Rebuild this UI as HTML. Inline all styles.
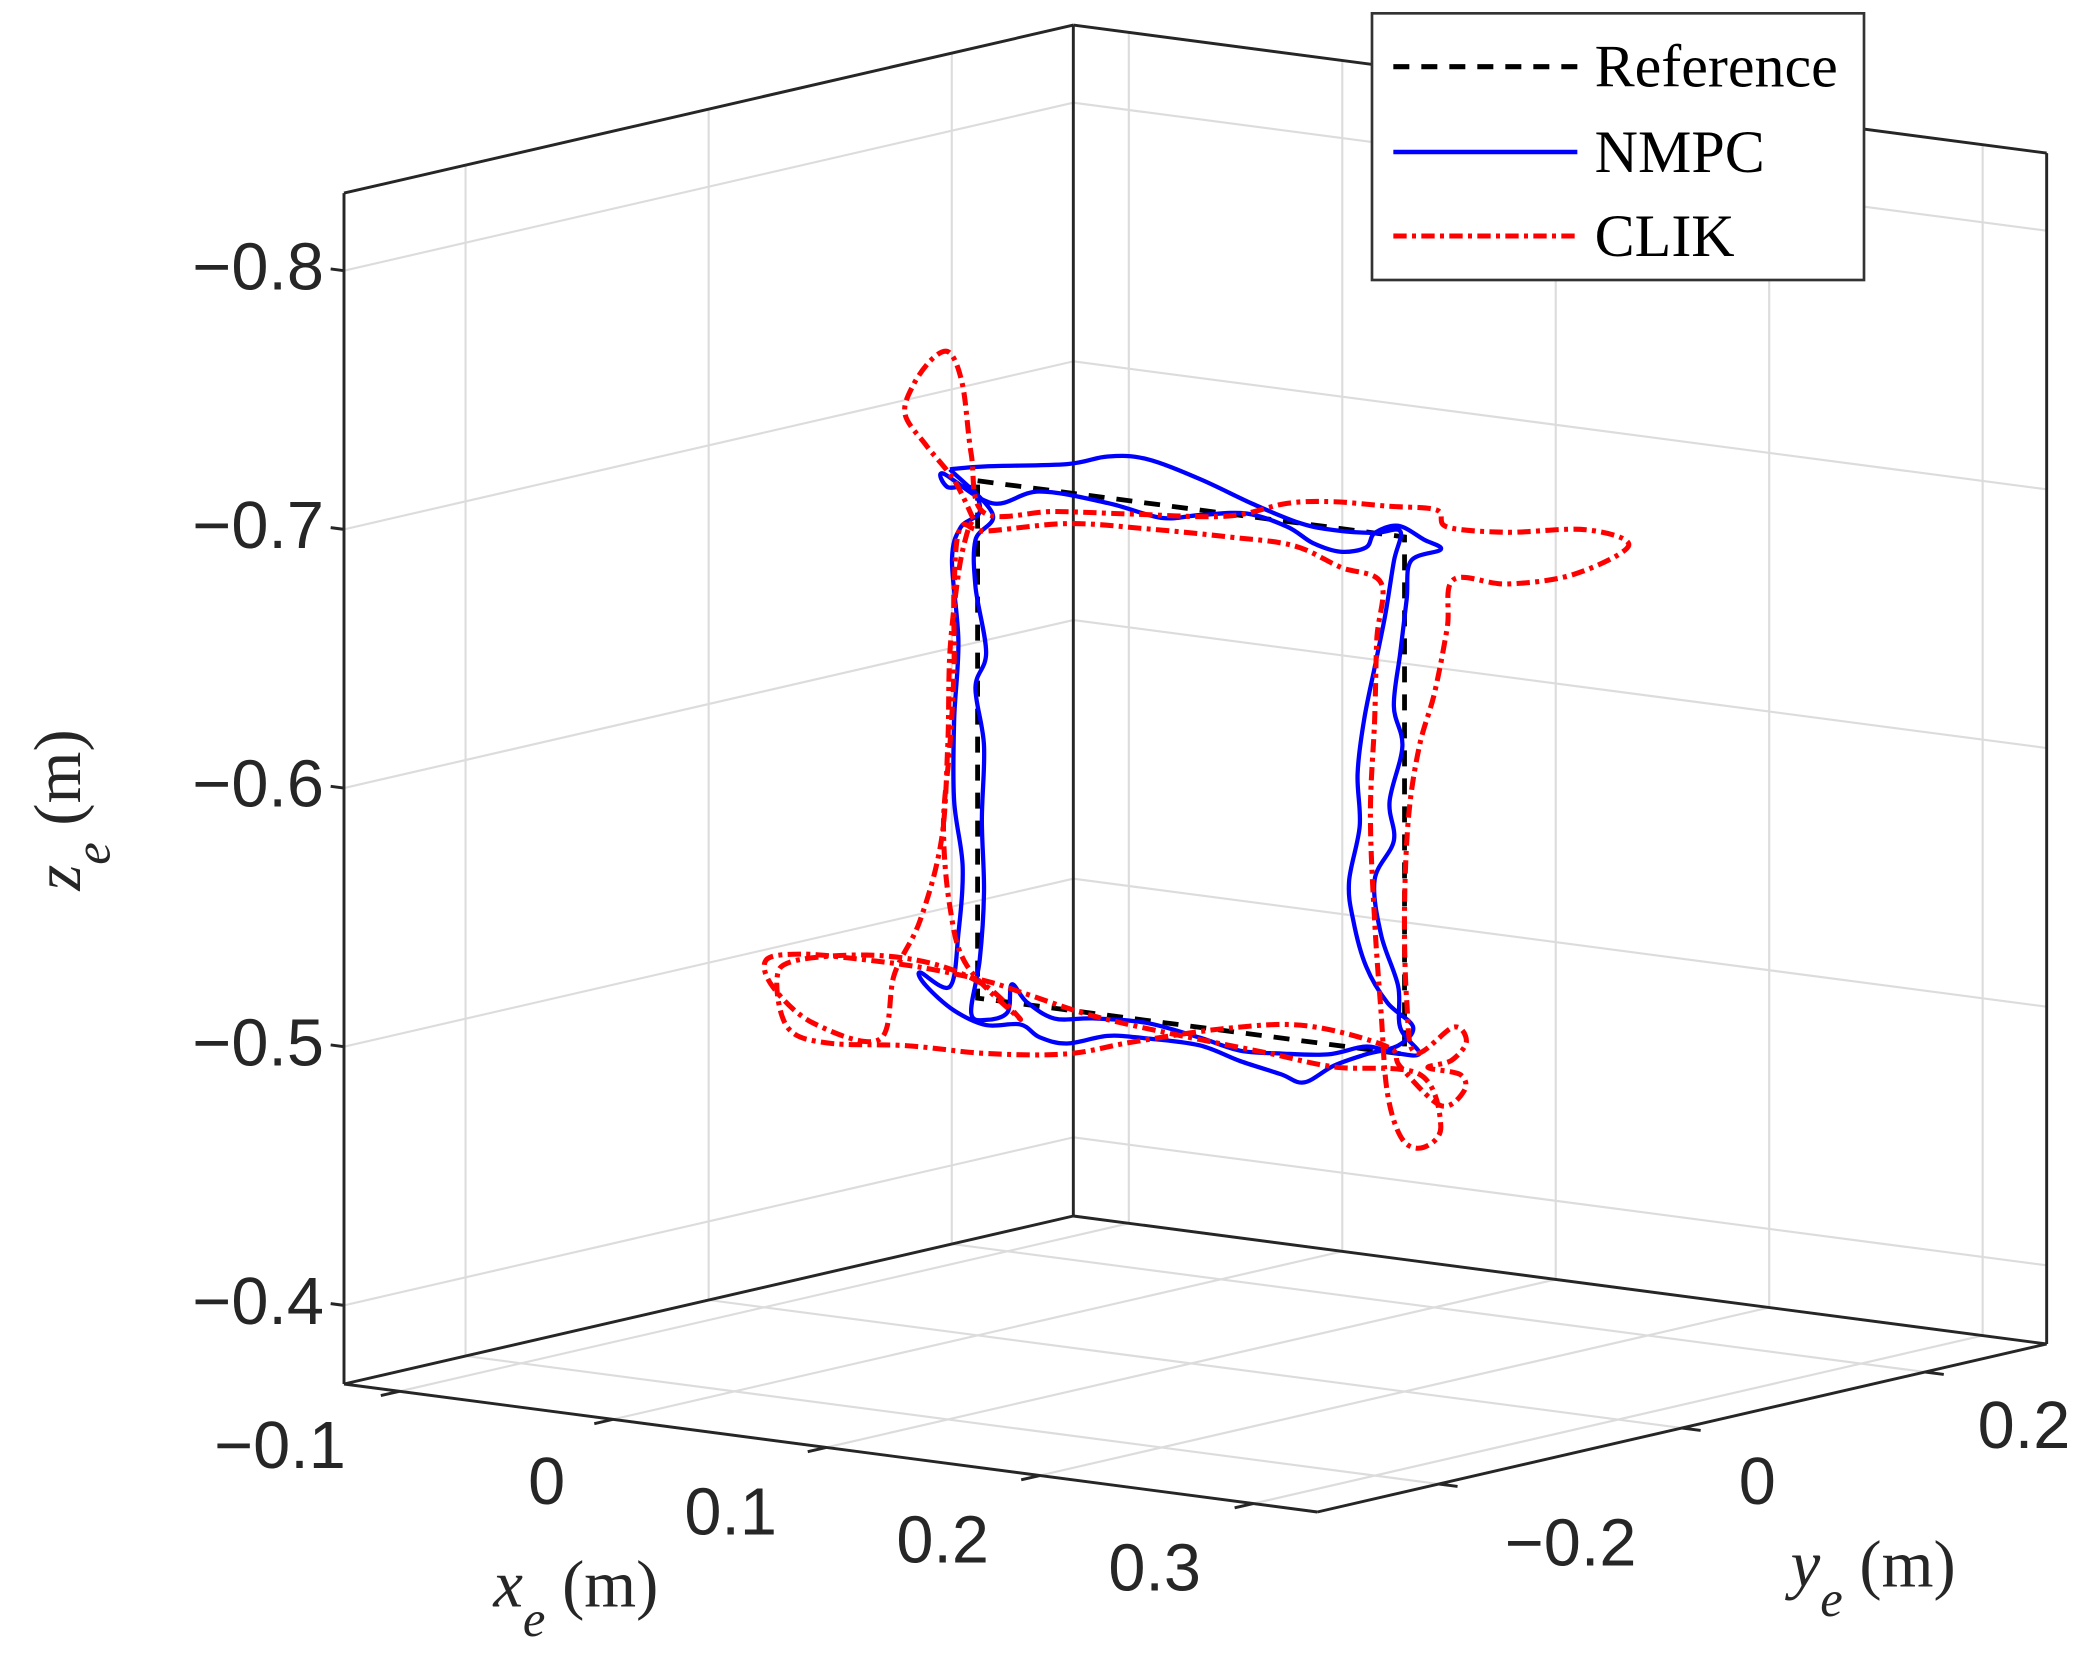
<!DOCTYPE html>
<html><head><meta charset="utf-8"><style>
html,body{margin:0;padding:0;background:#fff;}
svg{display:block;}
.tick{font-family:"Liberation Sans",Arial,sans-serif;font-size:50px;fill:#262626;}
.lab{font-family:"Liberation Serif","Times New Roman",serif;font-size:50px;fill:#262626;}
.leg{font-family:"Liberation Serif","Times New Roman",serif;font-size:45px;fill:#000;}
</style></head><body>
<svg id="chart" width="2080" height="1654" viewBox="0 0 1560 1240.5" preserveAspectRatio="none" xmlns="http://www.w3.org/2000/svg">
<rect x="0" y="0" width="1560" height="1240.5" fill="#fff"/>
<g id="grid"></g>
<g id="box"></g>
<g id="ticks"></g>
<g id="series"></g>
<g id="labels">
  <text class="lab" x="370" y="1205"><tspan font-style="italic">x</tspan><tspan font-style="italic" font-size="38" dy="22">e</tspan><tspan dy="-22"> (m)</tspan></text>
  <text class="lab" x="1343" y="1190"><tspan font-style="italic">y</tspan><tspan font-style="italic" font-size="38" dy="22">e</tspan><tspan dy="-22"> (m)</tspan></text>
  <text class="lab" transform="translate(60,668) rotate(-90)"><tspan font-style="italic">z</tspan><tspan font-style="italic" font-size="38" dy="22">e</tspan><tspan dy="-22"> (m)</tspan></text>
</g>
<g id="legend">
  <rect x="1029" y="10" width="369" height="200" fill="#fff" stroke="#333" stroke-width="2"/>
  <line x1="1045" y1="50" x2="1183" y2="50" stroke="#000" stroke-width="3.8" stroke-dasharray="12 9"/>
  <text class="leg" x="1196" y="65">Reference</text>
  <line x1="1045" y1="114" x2="1183" y2="114" stroke="#0000ff" stroke-width="3.4"/>
  <text class="leg" x="1196" y="129">NMPC</text>
  <line x1="1045" y1="177" x2="1183" y2="177" stroke="#ff0000" stroke-width="3.8" stroke-dasharray="10 4 3 4"/>
  <text class="leg" x="1196" y="192">CLIK</text>
</g>
</svg>
<script>
const xTicks=[-0.1,0,0.1,0.2,0.3];
const xTickLabels=["\u22120.1","0","0.1","0.2","0.3"];
const yTicks=[-0.2,0,0.2];
const yTickLabels=["\u22120.2","0","0.2"];
const zTicks=[-0.8,-0.7,-0.6,-0.5,-0.4];
const zTickLabels=["\u22120.8","\u22120.7","\u22120.6","\u22120.5","\u22120.4"];
const traceY=0;
const refX=[0,0.2,0.2,0,0];
const refZ=[-0.7,-0.7,-0.5,-0.5,-0.7];
const nmpcX=[-0.013,0.004,0.042,0.061,0.079,0.104,0.129,0.151,0.167,0.186,0.198,0.195,0.191,0.186,0.181,0.178,0.179,0.174,0.176,0.182,0.192,0.204,0.197,0.182,0.167,0.153,0.142,0.123,0.104,0.079,0.061,0.042,0.029,0.020,0.004,-0.011,-0.024,-0.027,-0.013,-0.009,-0.007,-0.011,-0.011,-0.009,-0.012,-0.008,0.001,-0.003,-0.014,-0.016,0.007,0.029,0.061,0.086,0.104,0.126,0.145,0.157,0.170,0.182,0.186,0.197,0.209,0.217,0.203,0.201,0.198,0.195,0.199,0.193,0.195,0.186,0.189,0.197,0.198,0.207,0.195,0.182,0.164,0.142,0.123,0.104,0.079,0.054,0.036,0.023,0.016,0.014,0.004,-0.003,0.001,0.003,0.002,0.003,-0.001,0.004,-0.001,-0.001,0.007,-0.013];
const nmpcZ=[-0.703,-0.706,-0.711,-0.716,-0.717,-0.712,-0.705,-0.700,-0.699,-0.700,-0.702,-0.690,-0.669,-0.648,-0.627,-0.606,-0.586,-0.564,-0.549,-0.532,-0.519,-0.511,-0.503,-0.498,-0.492,-0.484,-0.486,-0.489,-0.493,-0.493,-0.492,-0.487,-0.488,-0.492,-0.490,-0.494,-0.502,-0.507,-0.503,-0.524,-0.550,-0.575,-0.606,-0.637,-0.668,-0.681,-0.688,-0.697,-0.696,-0.701,-0.692,-0.699,-0.698,-0.695,-0.698,-0.701,-0.698,-0.693,-0.691,-0.694,-0.700,-0.704,-0.700,-0.697,-0.691,-0.676,-0.655,-0.634,-0.619,-0.597,-0.582,-0.566,-0.545,-0.526,-0.510,-0.501,-0.500,-0.501,-0.496,-0.494,-0.493,-0.496,-0.499,-0.498,-0.496,-0.501,-0.507,-0.496,-0.492,-0.494,-0.515,-0.541,-0.569,-0.598,-0.620,-0.634,-0.659,-0.677,-0.688,-0.703];
const clikX=[-0.002,-0.011,-0.024,-0.034,-0.030,-0.021,-0.013,-0.007,-0.003,0.003,0.036,0.073,0.117,0.145,0.167,0.192,0.215,0.220,0.248,0.285,0.305,0.279,0.248,0.223,0.220,0.214,0.207,0.202,0.200,0.201,0.205,0.223,0.229,0.222,0.211,0.226,0.228,0.217,0.198,0.192,0.154,0.117,0.073,0.042,0.004,-0.033,-0.071,-0.089,-0.094,-0.086,-0.052,-0.021,0.004,0.020,-0.005,-0.013,-0.016,-0.013,-0.011,-0.011,-0.008,0.004,0.042,0.079,0.117,0.148,0.170,0.189,0.187,0.186,0.184,0.186,0.189,0.192,0.199,0.209,0.217,0.207,0.167,0.136,0.092,0.054,0.023,0.004,-0.027,-0.058,-0.083,-0.099,-0.096,-0.077,-0.046,-0.039,-0.027,-0.017,-0.014,-0.013,-0.009,-0.005,-0.002];
const clikZ=[-0.685,-0.699,-0.711,-0.722,-0.734,-0.745,-0.748,-0.736,-0.710,-0.688,-0.692,-0.695,-0.699,-0.707,-0.710,-0.711,-0.712,-0.706,-0.707,-0.712,-0.708,-0.694,-0.687,-0.686,-0.667,-0.641,-0.620,-0.593,-0.557,-0.521,-0.501,-0.513,-0.508,-0.500,-0.496,-0.495,-0.489,-0.482,-0.495,-0.502,-0.506,-0.501,-0.491,-0.483,-0.479,-0.478,-0.475,-0.479,-0.497,-0.505,-0.511,-0.511,-0.505,-0.494,-0.512,-0.534,-0.565,-0.596,-0.627,-0.658,-0.681,-0.681,-0.688,-0.690,-0.691,-0.691,-0.685,-0.681,-0.659,-0.628,-0.591,-0.550,-0.515,-0.484,-0.467,-0.465,-0.474,-0.493,-0.4915,-0.4935,-0.496,-0.499,-0.504,-0.507,-0.509,-0.509,-0.508,-0.504,-0.494,-0.482,-0.479,-0.505,-0.527,-0.559,-0.596,-0.632,-0.663,-0.679,-0.685];

const X0=-0.126,X1=0.33,Y0=-0.3,Y1=0.3,ZB=-0.3696,ZT=-0.83;
const NS="http://www.w3.org/2000/svg";
function P(x,y,z){
  const fx=(x-X0)/(X1-X0), fy=(y-Y0)/(Y1-Y0);
  return [258+fx*730+fy*547, 1038+fx*96-fy*126+(z-ZB)*1940];
}
function mk(tag,attrs,parent){
  const e=document.createElementNS(NS,tag);
  for(const k in attrs)e.setAttribute(k,attrs[k]);
  parent.appendChild(e);return e;
}
function seg(a,b,parent,stroke,w,name){
  const l=mk('line',{x1:a[0],y1:a[1],x2:b[0],y2:b[1],stroke:stroke,'stroke-width':w},parent);
  
  
  return l;
}
const grid=document.getElementById('grid'),box=document.getElementById('box'),ticks=document.getElementById('ticks'),series=document.getElementById('series');
const gc='#dcdcdc',gw=1.6;
xTicks.forEach(x=>{seg(P(x,Y0,ZB),P(x,Y1,ZB),grid,gc,gw,'floor-gridline-x');});
yTicks.forEach(y=>{seg(P(X0,y,ZB),P(X1,y,ZB),grid,gc,gw,'floor-gridline-y');});
yTicks.forEach(y=>{seg(P(X0,y,ZB),P(X0,y,ZT),grid,gc,gw,'left-wall-gridline-y');});
zTicks.forEach(z=>{seg(P(X0,Y0,z),P(X0,Y1,z),grid,gc,gw,'left-wall-gridline-z');});
xTicks.forEach(x=>{seg(P(x,Y1,ZB),P(x,Y1,ZT),grid,gc,gw,'right-wall-gridline-x');});
zTicks.forEach(z=>{seg(P(X0,Y1,z),P(X1,Y1,z),grid,gc,gw,'right-wall-gridline-z');});
const bc='#262626',bw=2.2;
[[P(X0,Y0,ZB),P(X1,Y0,ZB)],[P(X1,Y0,ZB),P(X1,Y1,ZB)],[P(X1,Y1,ZB),P(X0,Y1,ZB)],[P(X0,Y1,ZB),P(X0,Y0,ZB)],
 [P(X0,Y0,ZB),P(X0,Y0,ZT)],[P(X0,Y1,ZB),P(X0,Y1,ZT)],[P(X1,Y1,ZB),P(X1,Y1,ZT)],
 [P(X0,Y0,ZT),P(X0,Y1,ZT)],[P(X0,Y1,ZT),P(X1,Y1,ZT)]].forEach(s=>seg(s[0],s[1],box,bc,bw,'box-edge'));
const xLabPos=[[210,1085],[410,1112],[548,1135],[707,1156],[866,1177]];
xTicks.forEach((x,i)=>{
  const a=P(x,Y0,ZB);seg(a,[a[0]-14,a[1]+3.2],ticks,bc,bw,'x-tick');
  const t=mk('text',{x:xLabPos[i][0],y:xLabPos[i][1]+16,'text-anchor':'middle',class:'tick'},ticks);
  
  
  t.textContent=xTickLabels[i];
});
const yLabPos=[[1178,1158],[1318,1112],[1518,1070]];
yTicks.forEach((y,i)=>{
  const a=P(X1,y,ZB);seg(a,[a[0]+14,a[1]+1.8],ticks,bc,bw,'y-tick');
  const t=mk('text',{x:yLabPos[i][0],y:yLabPos[i][1]+16,'text-anchor':'middle',class:'tick'},ticks);
  
  
  t.textContent=yTickLabels[i];
});
zTicks.forEach((z,i)=>{
  const a=P(X0,Y0,z);seg(a,[a[0]-10,a[1]-1.3],ticks,bc,bw,'z-tick');
  const t=mk('text',{x:243,y:a[1]+14,'text-anchor':'end',class:'tick'},ticks);
  
  
  t.textContent=zTickLabels[i];
});
function smoothPath(xs,zs){
  const n=Math.min(xs.length,zs.length);const pts=[];
  for(let i=0;i<n;i++)pts.push(P(xs[i],traceY,zs[i]));
  let d='M'+pts[0][0].toFixed(1)+','+pts[0][1].toFixed(1);
  for(let i=0;i<n-1;i++){
    const p0=pts[Math.max(0,i-1)],p1=pts[i],p2=pts[i+1],p3=pts[Math.min(n-1,i+2)];
    const c1=[p1[0]+(p2[0]-p0[0])/6,p1[1]+(p2[1]-p0[1])/6];
    const c2=[p2[0]-(p3[0]-p1[0])/6,p2[1]-(p3[1]-p1[1])/6];
    d+=' C'+c1[0].toFixed(1)+','+c1[1].toFixed(1)+' '+c2[0].toFixed(1)+','+c2[1].toFixed(1)+' '+p2[0].toFixed(1)+','+p2[1].toFixed(1);
  }
  return d;
}
function linePath(xs,zs){
  const n=Math.min(xs.length,zs.length);let d='';
  for(let i=0;i<n;i++){const p=P(xs[i],traceY,zs[i]);d+=(i?'L':'M')+p[0].toFixed(1)+','+p[1].toFixed(1);}
  return d;
}
const ref=mk('path',{d:linePath(refX,refZ),fill:'none',stroke:'#000','stroke-width':3.6,'stroke-dasharray':'12 9'},series);


const nm=mk('path',{d:smoothPath(nmpcX,nmpcZ),fill:'none',stroke:'#0000ff','stroke-width':3.2,'stroke-linejoin':'round'},series);


const cl=mk('path',{d:smoothPath(clikX,clikZ),fill:'none',stroke:'#ff0000','stroke-width':3.8,'stroke-dasharray':'10 4 3 4'},series);


</script>
</body></html>
